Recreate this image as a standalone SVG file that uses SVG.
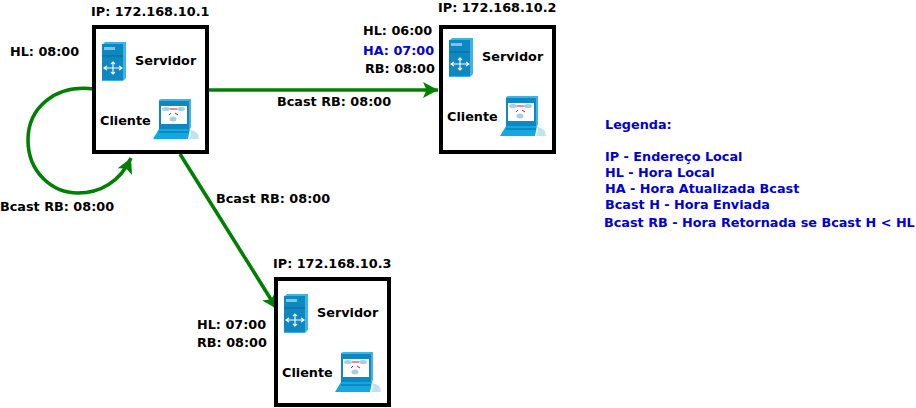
<svg xmlns="http://www.w3.org/2000/svg" width="916" height="408" viewBox="0 0 916 408">
<style>
text{font-family:"DejaVu Sans",sans-serif;font-weight:700;font-size:12.8px;fill:#000}
.b{fill:#0000d0}
.box{fill:#fff;stroke:#000;stroke-width:4}
.c{fill:none;stroke:#008000;stroke-width:3.6}
.w{fill:none;stroke:#fff;stroke-width:1.1}
</style>
<defs>
<marker id="a" markerUnits="userSpaceOnUse" markerWidth="17" markerHeight="16" refX="15" refY="8" orient="auto"><path d="M0 0L15 8L0 16L3.500 8Z" fill="#008000"/></marker>
<g id="server">
<path d="M0 3L3 0H24V36L21 39H0Z" fill="#3fb4e4"/>
<rect x="0" y="2" width="21" height="36" fill="#0f87c0"/>
<rect x="2" y="5" width="11" height="3" fill="#7fc4e4"/>
<path d="M0 14H21" stroke="#0a5f8c" stroke-width=".7"/>
<path class="w" d="M2 26H20M11 20V32M9 22L11 20L13 22M9 30L11 32L13 30M5 24L2 26L5 28M17 24L20 26L17 28"/>
</g>
<g id="client">
<path d="M6 1H37V30H6Z" fill="#0f87c0"/>
<path d="M6 1L8 0H38V28L37 30H36V2H6Z" fill="#3fb4e4"/>
<rect x="8" y="7" width="26" height="18" fill="#fff"/>
<ellipse cx="13" cy="10" rx="4" ry="2" fill="#a8cfe0"/>
<ellipse cx="28" cy="10" rx="4" ry="2" fill="#a8cfe0"/>
<ellipse cx="20" cy="20" rx="3.500" ry="2.500" fill="#a8cfe0"/>
<path d="M17 10H24M18 14L16 16M22 14L25 16" stroke="#c02040" stroke-width="1"/>
<path d="M6 30H37L35 40H0Z" fill="#12a8e0"/>
<path d="M6 33H36" stroke="#0a5f8c" stroke-width=".8"/>
<path d="M37 31Q46 32 46 40H36Q39 36 37 31Z" fill="#bfe3f3"/>
</g>
</defs>
<g id="connectors">
<path class="c" d="M207 90H438" marker-end="url(#a)"/>
<path class="c" d="M180 154L277 309" marker-end="url(#a)"/>
<path class="c" d="M94 89C55 84 28 108 28 140C28 172 52 193 78 193C100 193 120 182 131 158" marker-end="url(#a)"/>
</g>
<g id="node1">
<rect class="box" x="94" y="27" width="113" height="125"/>
<use href="#server" x="102" y="42"/>
<use href="#client" x="153" y="99"/>
<text x="135" y="65">Servidor</text>
<text x="100" y="125">Cliente</text>
<text x="91" y="16">IP: 172.168.10.1</text>
<text x="10" y="56">HL: 08:00</text>
</g>
<g id="node2">
<rect class="box" x="441" y="27" width="113" height="125"/>
<use href="#server" x="449" y="38"/>
<use href="#client" x="500" y="96"/>
<text x="482" y="61">Servidor</text>
<text x="447" y="121">Cliente</text>
<text x="438" y="12">IP: 172.168.10.2</text>
<text x="363" y="35">HL: 06:00</text>
<text class="b" x="363" y="55">HA: 07:00</text>
<text x="365" y="73">RB: 08:00</text>
</g>
<g id="node3">
<rect class="box" x="276" y="279" width="113" height="126"/>
<use href="#server" x="284" y="294"/>
<use href="#client" x="335" y="352"/>
<text x="317" y="317">Servidor</text>
<text x="282" y="377">Cliente</text>
<text x="273" y="268">IP: 172.168.10.3</text>
<text x="197" y="329">HL: 07:00</text>
<text x="197" y="347">RB: 08:00</text>
</g>
<g id="labels">
<text x="277" y="106">Bcast RB: 08:00</text>
<text x="216" y="203">Bcast RB: 08:00</text>
<text x="0" y="211">Bcast RB: 08:00</text>
</g>
<g id="legend">
<text class="b" x="605" y="129">Legenda:</text>
<text class="b" x="605" y="161">IP - Endereço Local</text>
<text class="b" x="605" y="177">HL - Hora Local</text>
<text class="b" x="605" y="193">HA - Hora Atualizada Bcast</text>
<text class="b" x="605" y="209">Bcast H - Hora Enviada</text>
<text class="b" x="604" y="227">Bcast RB - Hora Retornada se Bcast H &lt; HL</text>
</g>
</svg>
